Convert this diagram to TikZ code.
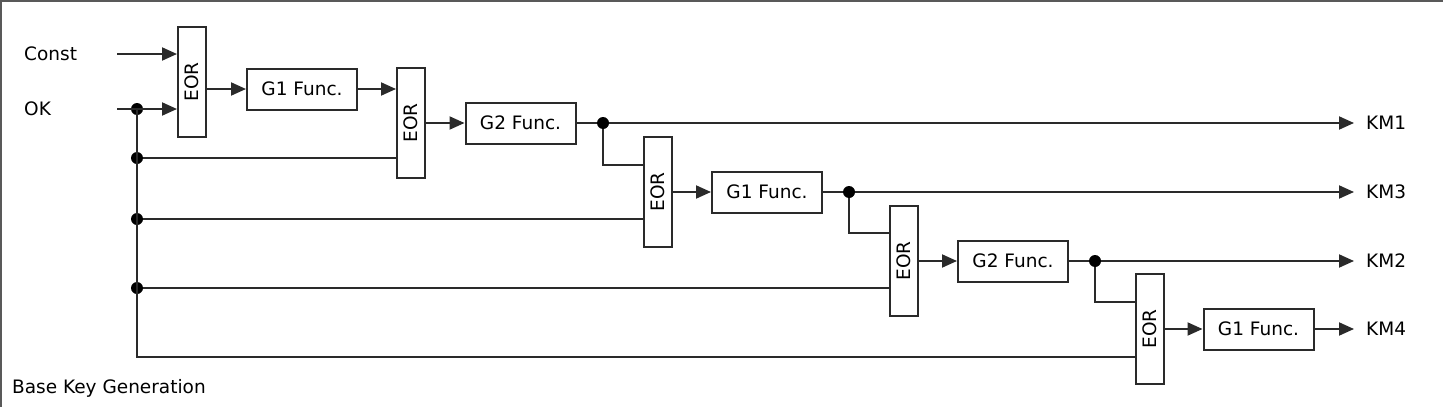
\documentclass[tikz,border=0pt]{standalone}
\usepackage{fontspec}
\setmainfont{DejaVu Sans}
\usetikzlibrary{arrows.meta}
\definecolor{ln}{HTML}{2A2A2A}
\tikzset{
  wire/.style={draw=ln, line width=2pt},
  arr/.style={wire, -{Triangle[length=15pt,width=13pt]}},
  fbox/.style={draw=ln, line width=2pt, rectangle, minimum width=110pt, minimum height=41pt, inner sep=0pt, font=\fontsize{18.5}{20}\selectfont},
  eorbox/.style={draw=ln, line width=2pt, rectangle, minimum width=28pt, minimum height=110pt, inner sep=0pt, font=\fontsize{18.5}{20}\selectfont},
  lbl/.style={inner sep=0pt, anchor=west, font=\fontsize{18.5}{20}\selectfont},
  dot/.style={circle, fill=black, inner sep=0pt, minimum size=12pt},
}
\begin{document}
\begin{tikzpicture}[x=1pt, y=-1pt]
\useasboundingbox (0,0) rectangle (1443,407);
\draw[draw=black!65, line width=2pt] (0,1) -- (1443,1);
\draw[draw=black!65, line width=2pt] (1,0) -- (1,407);

% labels
\node[lbl] (const) at (24,54) {Const};
\node[lbl] (ok) at (24,109) {OK};
\node[lbl] (title) at (12,388) {Base Key Generation};
\coordinate (cst) at (117,54);
\coordinate (okin) at (117,109);

% EOR boxes
\node[eorbox] (eor1) at (192,82) {\rotatebox{90}{EOR}};
\node[eorbox] (eor2) at (411,123) {\rotatebox{90}{EOR}};
\node[eorbox] (eor3) at (657.5,192) {\rotatebox{90}{EOR}};
\node[eorbox] (eor4) at (903.5,261) {\rotatebox{90}{EOR}};
\node[eorbox] (eor5) at (1149.5,329) {\rotatebox{90}{EOR}};

% function boxes
\node[fbox] (g1a) at (302,89) {G1 Func.};
\node[fbox] (g2a) at (520.5,123) {G2 Func.};
\node[fbox] (g1b) at (767,192) {G1 Func.};
\node[fbox] (g2b) at (1013,261) {G2 Func.};
\node[fbox] (g1c) at (1258.5,329) {G1 Func.};

% outputs
\node[lbl] (km1) at (1366,123) {KM1};
\node[lbl] (km3) at (1366,192) {KM3};
\node[lbl] (km2) at (1366,261) {KM2};
\node[lbl] (km4) at (1366,329) {KM4};

% dots
\node[dot] (d0) at (137,109) {};
\node[dot] (b1) at (137,158) {};
\node[dot] (b2) at (137,219) {};
\node[dot] (b3) at (137,288) {};
\coordinate (bend) at (137,357);
\node[dot] (t1) at (603,123) {};
\node[dot] (t2) at (849,192) {};
\node[dot] (t3) at (1095,261) {};

% inputs
\draw[arr] (cst) -- (eor1.west |- cst);
\draw[arr] (okin) -- (eor1.west |- okin);

% main chain
\draw[arr] (eor1.east |- g1a) -- (g1a.west);
\draw[arr] (g1a.east) -- (g1a.east -| eor2.west);
\draw[arr] (eor2.east) -- (g2a.west);
\draw[wire] (g2a.east) -- (t1);
\draw[arr] (eor3.east) -- (g1b.west);
\draw[wire] (g1b.east) -- (t2);
\draw[arr] (eor4.east) -- (g2b.west);
\draw[wire] (g2b.east) -- (t3);
\draw[arr] (eor5.east |- g1c) -- (g1c.west);

% outputs
\draw[arr, shorten >=12pt] (t1) -- (km1);
\draw[arr, shorten >=12pt] (t2) -- (km3);
\draw[arr, shorten >=12pt] (t3) -- (km2);
\draw[arr, shorten >=12pt] (g1c.east) -- (km4);

% feedback into next EOR
\draw[wire] (t1) |- (eor3.west |- 0,165);
\draw[wire] (t2) |- (eor4.west |- 0,233);
\draw[wire] (t3) |- (eor5.west |- 0,302);

% key bus
\draw[wire] (d0.center) -- (bend) -- (eor5.west |- bend);
\draw[wire] (b1) -- (eor2.west |- b1);
\draw[wire] (b2) -- (eor3.west |- b2);
\draw[wire] (b3) -- (eor4.west |- b3);
\end{tikzpicture}
\end{document}
